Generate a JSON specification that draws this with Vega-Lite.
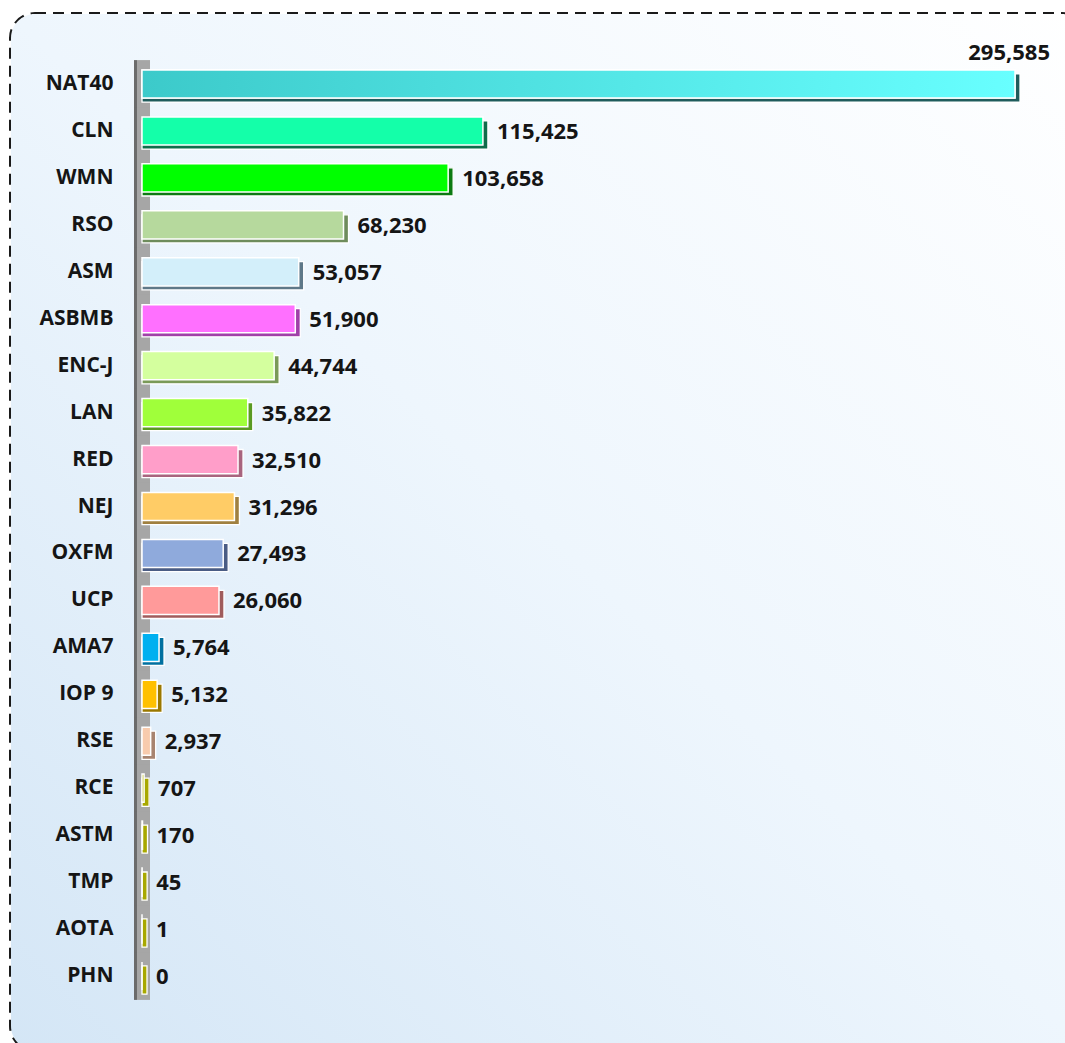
{
  "$schema": "https://vega.github.io/schema/vega-lite/v6.json",
  "width": 1075,
  "height": 1036,
  "autosize": "none",
  "padding": {"left": 11, "top": 14, "right": 0, "bottom": 0},
  "background": "#ffffff",
  "config": {
    "view": {"stroke": "#1a1a1a", "strokeDash": [11, 7], "strokeWidth": 4, "cornerRadius": 24},
    "text": {"font": "Open Sans"}
  },
  "datasets": {
    "journals": [
      {"cat": "NAT40", "value": 295585},
      {"cat": "CLN", "value": 115425},
      {"cat": "WMN", "value": 103658},
      {"cat": "RSO", "value": 68230},
      {"cat": "ASM", "value": 53057},
      {"cat": "ASBMB", "value": 51900},
      {"cat": "ENC-J", "value": 44744},
      {"cat": "LAN", "value": 35822},
      {"cat": "RED", "value": 32510},
      {"cat": "NEJ", "value": 31296},
      {"cat": "OXFM", "value": 27493},
      {"cat": "UCP", "value": 26060},
      {"cat": "AMA7", "value": 5764},
      {"cat": "IOP 9", "value": 5132},
      {"cat": "RSE", "value": 2937},
      {"cat": "RCE", "value": 707},
      {"cat": "ASTM", "value": 170},
      {"cat": "TMP", "value": 45},
      {"cat": "AOTA", "value": 1},
      {"cat": "PHN", "value": 0}
    ]
  },
  "data": {"name": "journals"},
  "encoding": {
    "y": {
      "field": "cat",
      "type": "nominal",
      "sort": null,
      "scale": {"paddingInner": 0.4, "paddingOuter": 1, "range": [9, 1023]},
      "axis": {
        "title": null,
        "domain": false,
        "ticks": false,
        "grid": false,
        "offset": -107,
        "labelPadding": 5,
        "labelFont": "Open Sans",
        "labelFontWeight": "bold",
        "labelFontSize": 21,
        "labelColor": "#151515",
        "zindex": 1
      }
    }
  },
  "layer": [
    {
      "data": {"values": [{"bg": 1}]},
      "mark": {
        "type": "rect",
        "cornerRadius": 24,
        "color": {
          "gradient": "linear",
          "x1": 1, "y1": 0, "x2": 0, "y2": 1,
          "stops": [
            {"offset": 0, "color": "#ffffff"},
            {"offset": 0.5, "color": "#eef6fd"},
            {"offset": 1, "color": "#d4e6f6"}
          ]
        }
      },
      "encoding": {"y": null}
    },
    {
      "mark": {"type": "bar", "color": "#a6a6a6", "height": {"band": 1.7}},
      "encoding": {
        "x": {"datum": -1693, "type": "quantitative", "scale": {"domain": [-44354, 319620], "nice": false, "zero": false}, "axis": null},
        "x2": {"datum": 2709}
      }
    },
    {
      "mark": {"type": "bar", "color": "#6b6b6b", "height": {"band": 1.7}},
      "encoding": {
        "x": {"datum": -2709, "type": "quantitative"},
        "x2": {"datum": -1693}
      }
    },
    {
      "mark": {"type": "bar", "xOffset": 5, "x2Offset": 0, "yOffset": 4, "stroke": "#ffffff", "strokeWidth": 1.3},
      "encoding": {
        "x": {"field": "value", "type": "quantitative"},
        "x2": {"datum": 0},
        "color": {
          "field": "cat",
          "type": "nominal",
          "legend": null,
          "scale": {
            "domain": ["NAT40", "CLN", "WMN", "RSO", "ASM", "ASBMB", "ENC-J", "LAN", "RED", "NEJ", "OXFM", "UCP", "AMA7", "IOP 9", "RSE", "RCE", "ASTM", "TMP", "AOTA", "PHN"],
            "range": ["#1f5c5c", "#0e6e4a", "#0c7a12", "#6e8c5c", "#5e7888", "#a040a8", "#7a9a58", "#5a9a22", "#a8647e", "#a08040", "#4a5c84", "#a05c5c", "#0070a0", "#9a7800", "#a88470", "#a8a800", "#a8a800", "#a8a800", "#a8a800", "#a8a800"]
          }
        }
      }
    },
    {
      "mark": {"type": "bar", "stroke": "#ffffff", "strokeWidth": 1.5},
      "encoding": {
        "x": {"field": "value", "type": "quantitative"},
        "x2": {"datum": 0},
        "fill": {
          "field": "cat",
          "type": "nominal",
          "legend": null,
          "scale": {
            "domain": ["NAT40", "CLN", "WMN", "RSO", "ASM", "ASBMB", "ENC-J", "LAN", "RED", "NEJ", "OXFM", "UCP", "AMA7", "IOP 9", "RSE", "RCE", "ASTM", "TMP", "AOTA", "PHN"],
            "range": ["#4fe6e6", "#14ffa9", "#00ff00", "#b6d99d", "#d3effa", "#ff70ff", "#d4ff9e", "#a0ff3a", "#ff9ec9", "#ffcc66", "#8faadc", "#ff9a9a", "#00b0f0", "#ffc000", "#f8cbad", "#b8b800", "#b8b800", "#b8b800", "#b8b800", "#b8b800"]
          }
        }
      }
    },
    {
      "transform": [{"filter": "datum.cat === 'NAT40'"}],
      "mark": {
        "type": "bar",
        "stroke": "#ffffff",
        "strokeWidth": 1.5,
        "color": {
          "gradient": "linear",
          "x1": 0, "y1": 0, "x2": 1, "y2": 0,
          "stops": [
            {"offset": 0, "color": "#3ccaca"},
            {"offset": 1, "color": "#68ffff"}
          ]
        }
      },
      "encoding": {
        "x": {"field": "value", "type": "quantitative"},
        "x2": {"datum": 0}
      }
    },
    {
      "transform": [{"filter": "datum.cat !== 'NAT40'"}],
      "mark": {"type": "text", "align": "left", "baseline": "middle", "dx": 14, "dy": 1, "fontSize": 22, "fontWeight": "bold", "color": "#151515"},
      "encoding": {
        "x": {"field": "value", "type": "quantitative"},
        "text": {"field": "value", "type": "quantitative", "format": ","}
      }
    },
    {
      "transform": [{"filter": "datum.cat === 'NAT40'"}],
      "mark": {"type": "text", "align": "right", "baseline": "middle", "dx": 35, "dy": -31, "fontSize": 22, "fontWeight": "bold", "color": "#151515"},
      "encoding": {
        "x": {"field": "value", "type": "quantitative"},
        "text": {"field": "value", "type": "quantitative", "format": ","}
      }
    }
  ],
  "resolve": {"scale": {"color": "independent", "fill": "independent"}}
}
